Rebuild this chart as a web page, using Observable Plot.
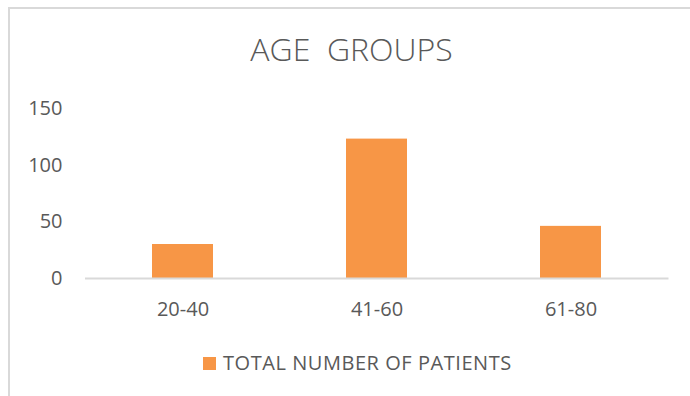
<!DOCTYPE html>
<html>
<head>
<meta charset="utf-8">
<script src="https://cdn.jsdelivr.net/npm/d3@7"></script>
<script src="https://cdn.jsdelivr.net/npm/@observablehq/plot@0.6"></script>
<style>
  html, body { margin: 0; padding: 0; background: #fff; }
  #wrap { position: relative; width: 690px; height: 396px; overflow: hidden; font-family: "Open Sans", sans-serif; color: #595959; }
  #border { position: absolute; left: 8px; top: 7px; width: 700px; height: 400px; border-left: 2px solid #d9d9d9; border-top: 2px solid #d9d9d9; }
  #title { position: absolute; left: 0; width: 703px; top: 33px; text-align: center; font-size: 32px; line-height: 32px; font-weight: 300; white-space: pre; }
  #chart { position: absolute; left: 0; top: 80px; }
  #legend { position: absolute; left: 203px; top: 353px; font-size: 20px; line-height: 20px; white-space: nowrap; }
  #legend .sw { position: absolute; left: 0; top: 4px; width: 13px; height: 13px; background: #F79646; }
  #legend .lab { position: absolute; left: 20px; top: 0; letter-spacing: 0.55px; }
</style>
</head>
<body>
<div id="wrap">
  <div id="border"></div>
  <div id="title">AGE  GROUPS</div>
  <div id="chart"></div>
  <div id="legend"><span class="sw"></span><span class="lab">TOTAL NUMBER OF PATIENTS</span></div>
</div>
<script>
const categories = ["20-40", "41-60", "61-80"];
const patients = [30, 123, 46];
const yTicks = [0, 50, 100, 150];
const seriesName = "TOTAL NUMBER OF PATIENTS";
const barColor = "#F79646";

const data = categories.map((c, i) => ({group: c, value: patients[i]}));

const plot = Plot.plot({
  width: 690,
  height: 248,
  marginLeft: 85,
  marginRight: 21.5,
  marginTop: 28,
  marginBottom: 50,
  style: {fontFamily: "Open Sans, sans-serif", fontSize: "20px", color: "#595959", background: "transparent", overflow: "visible"},
  x: {domain: categories, paddingInner: 0.686, paddingOuter: 0.343, label: null},
  y: {domain: [0, 150], label: null},
  marks: [
    Plot.barY(data, {x: "group", y: "value", fill: barColor, title: d => `${seriesName}: ${d.value}`}),
    Plot.ruleY([0], {stroke: "#d9d9d9", strokeWidth: 2}),
    Plot.axisX({tickSize: 0, tickPadding: 23, fontSize: 20, fill: "#595959", label: null}),
    Plot.axisY({ticks: yTicks, tickSize: 0, tickPadding: 23, fontSize: 20, fill: "#595959", label: null})
  ]
});
document.getElementById("chart").appendChild(plot);
</script>
</body>
</html>
